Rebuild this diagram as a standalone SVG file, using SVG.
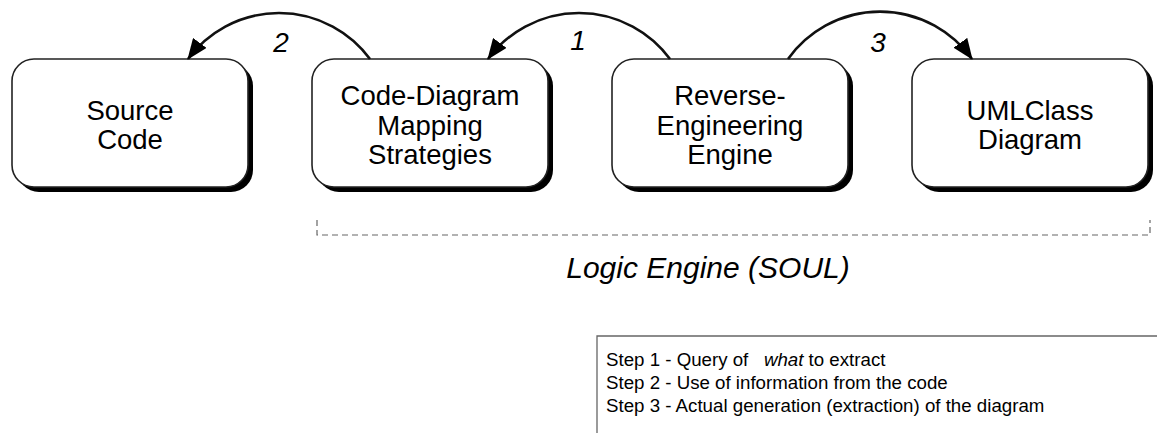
<svg xmlns="http://www.w3.org/2000/svg" width="1157" height="433" viewBox="0 0 1157 433">
  <style>
    .box { fill: #fff; stroke: #222; stroke-width: 1.6; }
    .shadow { fill: #000; }
    .label { font-family: "Liberation Sans", Arial, sans-serif; font-size: 27.5px; fill: #000; text-anchor: middle; }
    .step { font-family: "Liberation Sans", Arial, sans-serif; font-size: 28px; font-style: italic; fill: #000; text-anchor: middle; }
    .flow { fill: none; stroke: #111; stroke-width: 2.6; marker-end: url(#head); }
    .legend { font-family: "Liberation Sans", Arial, sans-serif; font-size: 18.7px; fill: #000; white-space: pre; }
  </style>
  <defs>
    <marker id="head" viewBox="0 0 20 16" refX="19" refY="8" markerWidth="21" markerHeight="17" markerUnits="userSpaceOnUse" orient="auto">
      <path d="M0,0 L20,8 L0,16 z" fill="#000"/>
    </marker>
  </defs>
  <rect width="1157" height="433" fill="#fff"/>

  <g id="source-code">
    <rect class="shadow" x="17" y="64" width="236" height="128" rx="22"/>
    <rect class="box" x="12" y="59" width="236" height="128" rx="22"/>
    <text class="label" x="130" y="119.5">Source</text>
    <text class="label" x="130" y="149">Code</text>
  </g>

  <g id="mapping-strategies">
    <rect class="shadow" x="317" y="64" width="236" height="128" rx="22"/>
    <rect class="box" x="312" y="59" width="236" height="128" rx="22"/>
    <text class="label" x="430" y="105">Code-Diagram</text>
    <text class="label" x="430" y="134.5">Mapping</text>
    <text class="label" x="430" y="164">Strategies</text>
  </g>

  <g id="re-engine">
    <rect class="shadow" x="617" y="64" width="236" height="128" rx="22"/>
    <rect class="box" x="612" y="59" width="236" height="128" rx="22"/>
    <text class="label" x="730" y="105">Reverse-</text>
    <text class="label" x="730" y="134.5">Engineering</text>
    <text class="label" x="730" y="164">Engine</text>
  </g>

  <g id="uml-diagram">
    <rect class="shadow" x="917" y="64" width="236" height="128" rx="22"/>
    <rect class="box" x="912" y="59" width="236" height="128" rx="22"/>
    <text class="label" x="1030" y="119.5">UMLClass</text>
    <text class="label" x="1030" y="149">Diagram</text>
  </g>

  <g id="connectors">
    <path class="flow" d="M370,59 A113,113 0 0 0 188,59"/>
    <path class="flow" d="M670,59 A113,113 0 0 0 488,59"/>
    <path class="flow" d="M788,59 A113,113 0 0 1 972,59"/>
    <text class="step" x="281" y="52">2</text>
    <text class="step" x="578" y="50">1</text>
    <text class="step" x="878" y="52">3</text>
  </g>

  <g id="logic-engine">
    <path d="M317,220 V235 H1150 V220" fill="none" stroke="#666" stroke-width="1.2" stroke-dasharray="6 4"/>
    <text x="708" y="278" font-family="Liberation Sans, Arial, sans-serif" font-size="30" font-style="italic" text-anchor="middle">Logic Engine (SOUL)</text>
  </g>

  <g id="legend">
    <path d="M1157,336 H597 V433" fill="none" stroke="#666" stroke-width="1.3"/>
    <text class="legend" x="606" y="366">Step 1 - Query of   <tspan font-style="italic">what</tspan> to extract</text>
    <text class="legend" x="606" y="389">Step 2 - Use of information from the code</text>
    <text class="legend" x="606" y="412">Step 3 - Actual generation (extraction) of the diagram</text>
  </g>
</svg>
